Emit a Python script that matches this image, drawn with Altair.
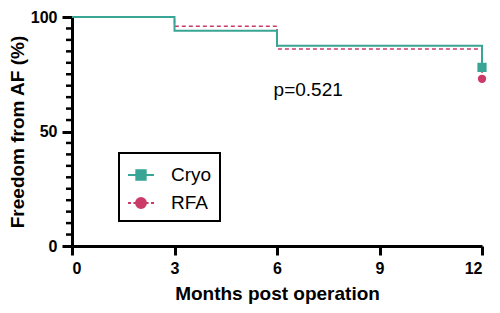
import altair as alt
import pandas as pd

# ---- data ----
months = [0, 3, 6, 12]
cryo = [100, 94, 87.5, 78]
rfa = [100, 96, 86, 73]
series = ["Cryo", "RFA"]
x_ticks = [0, 3, 6, 9, 12]
y_major = [0, 50, 100]
y_minor = [5, 10, 15, 20, 25, 30, 35, 40, 45, 55, 60, 65, 70, 75, 80, 85, 90, 95]
annot_text = ["p=0.521"]
annot_x = [5.9]
annot_y = [68]

TEAL = "#39a594"
PINK = "#cc3b68"
FONT = "Liberation Sans"

cryo_df = pd.DataFrame({"m": months, "s": cryo})
rfa_df = pd.DataFrame({"m": months, "s": rfa})
cryo_last = cryo_df.tail(1)
rfa_last = rfa_df.tail(1)
minor_df = pd.DataFrame({"v": y_minor})
annot_df = pd.DataFrame({"t": annot_text, "m": annot_x, "s": annot_y})
legend_df = pd.DataFrame({"series": series, "m": [12, 12], "s": [cryo[-1], rfa[-1]]})

xscale = alt.Scale(domain=[0, 12], nice=False, zero=False)
yscale = alt.Scale(domain=[0, 100], nice=False)

xaxis = alt.Axis(values=x_ticks, tickSize=9, tickWidth=3, domainWidth=3,
                 domainColor="black", tickColor="black", grid=False,
                 labelFont=FONT, labelFontSize=16, labelFontWeight="bold",
                 labelColor="black", labelPadding=5,
                 title="Months post operation", titleFont=FONT, titleFontSize=19,
                 titleFontWeight="bold", titleColor="black", titlePadding=8)
yaxis = alt.Axis(values=y_major, tickSize=10, tickWidth=3, domainWidth=3,
                 domainColor="black", tickColor="black", grid=False,
                 labelFont=FONT, labelFontSize=16, labelFontWeight="bold",
                 labelColor="black", labelPadding=5,
                 title="Freedom from AF (%)", titleFont=FONT, titleFontSize=19,
                 titleFontWeight="bold", titleColor="black", titlePadding=3)

X = alt.X("m:Q", scale=xscale, axis=xaxis)
Y = alt.Y("s:Q", scale=yscale, axis=yaxis)

rfa_line = alt.Chart(rfa_df).mark_line(
    interpolate="step-after", color=PINK, strokeWidth=1.5, strokeDash=[4, 3]
).encode(x=X, y=Y)
cryo_line = alt.Chart(cryo_df).mark_line(
    interpolate="step-after", color=TEAL, strokeWidth=2
).encode(x=X, y=Y)
rfa_pt = alt.Chart(rfa_last).mark_point(
    shape="circle", filled=True, size=70, opacity=1, color=PINK
).encode(x=X, y=Y)
cryo_pt = alt.Chart(cryo_last).mark_point(
    shape="square", filled=True, size=85, opacity=1, color=TEAL
).encode(x=X, y=Y)

minor = alt.Chart(minor_df).mark_rule(color="black", strokeWidth=2.5).encode(
    y=alt.Y("v:Q", scale=yscale, axis=yaxis),
    x=alt.value(-6), x2=alt.value(0)
)

annot = alt.Chart(annot_df).mark_text(
    align="left", baseline="middle", fontSize=19, font=FONT, color="black"
).encode(x=X, y=Y, text="t:N")

cryo_sym = "M-1,0H1M-0.36,-0.36H0.36V0.36H-0.36Z"
rfa_sym = ("M-1,0H-0.77M-0.58,0H-0.36M0.36,0H0.58M0.77,0H1"
           "M-0.38,0A0.38,0.38 0 1,0 0.38,0A0.38,0.38 0 1,0 -0.38,0Z")

leg = alt.Legend(title=None, orient="none", legendX=47, legendY=136,
                 strokeColor="black", padding=8, symbolSize=676,
                 symbolStrokeWidth=2, labelFont=FONT, labelFontSize=19,
                 labelColor="black", labelOffset=16, rowPadding=4)

legend_layer = alt.Chart(legend_df).mark_point(
    filled=True, opacity=1, strokeWidth=2
).encode(
    x=X, y=Y,
    fill=alt.Fill("series:N", scale=alt.Scale(domain=series, range=[TEAL, PINK]), legend=leg),
    stroke=alt.Stroke("series:N", scale=alt.Scale(domain=series, range=[TEAL, PINK]), legend=leg),
    shape=alt.Shape("series:N", scale=alt.Scale(domain=series, range=[cryo_sym, rfa_sym]), legend=leg),
).transform_filter("false")

chart = alt.layer(
    minor, rfa_line, cryo_line, rfa_pt, cryo_pt, annot, legend_layer
).properties(
    width=410, height=229,
    autosize=alt.AutoSizeParams(type="none"),
    padding={"left": 64, "top": 9, "right": 10, "bottom": 59},
).configure_view(stroke=None).configure_legend(strokeWidth=2)

chart.save("out.html", embed_options={"renderer": "svg", "actions": False})
